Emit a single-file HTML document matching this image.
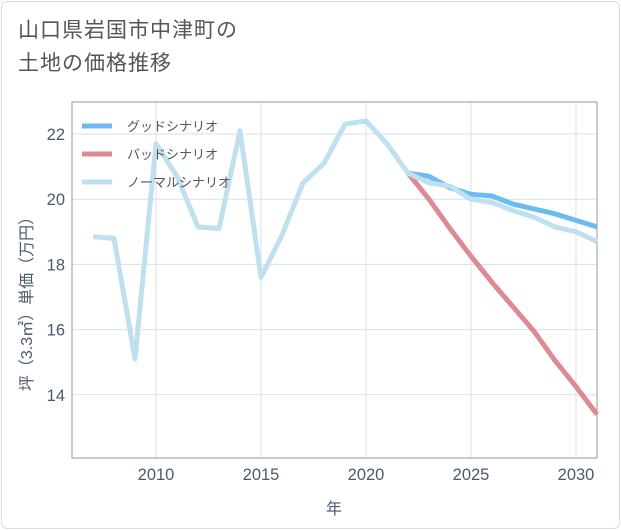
<!DOCTYPE html>
<html><head><meta charset="utf-8"><style>
body{margin:0;background:#fff;font-family:"Liberation Sans","Noto Sans CJK JP",sans-serif}
#wrap{position:relative;width:621px;height:530px}
.title{position:absolute;left:18px;top:14px;font-size:21px;color:#555;line-height:33px;letter-spacing:1px}
</style></head><body>
<div id="wrap">
<div style="position:absolute;left:1px;top:1px;width:617px;height:526px;border:1px solid #ddd;border-radius:6px"></div>
<div class="title">山口県岩国市中津町の<br>土地の価格推移</div>
<svg id="chart" width="621" height="530" style="position:absolute;left:0;top:0"></svg>
</div>
<script>
const years=[2007,2008,2009,2010,2011,2012,2013,2014,2015,2016,2017,2018,2019,2020,2021,2022,2023,2024,2025,2026,2027,2028,2029,2030,2031];
const normal=[18.85,18.8,15.1,21.7,20.7,19.15,19.1,22.1,17.6,18.9,20.5,21.1,22.3,22.4,21.7,20.8,20.5,20.4,20.0,19.9,19.65,19.45,19.15,19.0,18.7];
const goodYears=[2022,2023,2024,2025,2026,2027,2028,2029,2030,2031];
const good=[20.8,20.7,20.35,20.15,20.1,19.85,19.7,19.55,19.35,19.15];
const badYears=[2022,2023,2024,2025,2026,2027,2028,2029,2030,2031];
const bad=[20.8,20.0,19.1,18.25,17.45,16.7,15.95,15.05,14.25,13.4];
const xTicks=[2010,2015,2020,2025,2030];
const yTicks=[14,16,18,20,22];
const L=72,R=597,T=102,B=458;
const x=v=>L+(v-2006)*(R-L)/25;
const y=v=>134+(22-v)*32.6;
const svg=document.getElementById('chart');
const NS='http://www.w3.org/2000/svg';
function mk(t,a){const e=document.createElementNS(NS,t);for(const k in a)e.setAttribute(k,a[k]);svg.appendChild(e);return e;}
for(const t of xTicks){const l=mk('line',{x1:x(t),x2:x(t),y1:T,y2:B,stroke:'#d5e1ea','stroke-width':1});


const tx=mk('text',{x:x(t),y:B+22,'text-anchor':'middle','font-size':16.5,fill:'#4a5a6a'});tx.textContent=t;

}
for(const t of yTicks){const l=mk('line',{x1:L,x2:R,y1:y(t),y2:y(t),stroke:'#d5e1ea','stroke-width':1});


const tx=mk('text',{x:L-7,y:y(t)+6,'text-anchor':'end','font-size':16.5,fill:'#4a5a6a'});tx.textContent=t;

}
const ax=mk('rect',{x:L,y:T,width:R-L,height:B-T,fill:'none',stroke:'#999','stroke-width':1});


function line(xs,vs,c,n){const p=mk('polyline',{points:xs.map((v,i)=>x(v)+','+y(vs[i])).join(' '),fill:'none',stroke:c,'stroke-width':5,'stroke-linejoin':'round'});

}
line(goodYears,good,'#6cbcf0','good-scenario-line');
line(badYears,bad,'#de8a92','bad-scenario-line');
line(years,normal,'#bfe0ee','normal-scenario-line');
const leg=[['グッドシナリオ','#6cbcf0'],['バッドシナリオ','#de8a92'],['ノーマルシナリオ','#bfe0ee']];
leg.forEach((d,i)=>{const yy=126+i*28;
const l=mk('line',{x1:82,x2:112,y1:yy,y2:yy,stroke:d[1],'stroke-width':5});


const t=mk('text',{x:127,y:yy+5,'font-size':13,fill:'#555'});t.textContent=d[0];

});
const xt=mk('text',{x:334,y:514,'text-anchor':'middle','font-size':16,fill:'#4a5a6a'});xt.textContent='年';


const yt=mk('text',{x:0,y:0,'text-anchor':'middle','font-size':16,fill:'#4a5a6a',transform:'translate(32,300) rotate(-90)'});yt.textContent='坪（3.3㎡）単価（万円）';


</script>
</body></html>
